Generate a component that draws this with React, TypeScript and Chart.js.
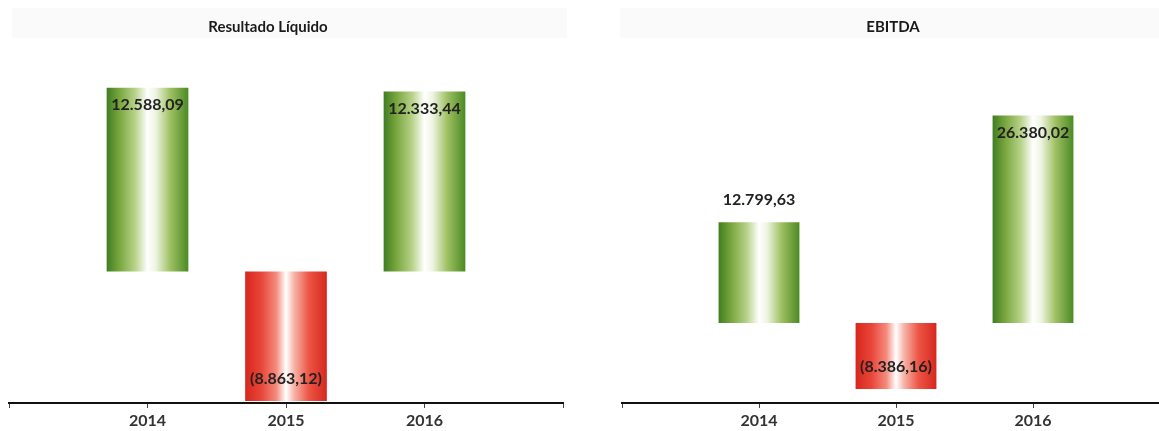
import React, { useEffect, useRef } from "react";
import { Chart, registerables } from "chart.js";

Chart.register(...registerables);

const CATEGORIES = ["2014", "2015", "2016"];
const RESULTADO_VALUES = [12588.09, -8863.12, 12333.44];
const EBITDA_VALUES = [12799.63, -8386.16, 26380.02];
const RESULTADO_TITLE = "Resultado Líquido";
const EBITDA_TITLE = "EBITDA";

const FONT = "Lato, 'Open Sans', 'DejaVu Sans', sans-serif";

function fmt(v: number): string {
  const abs = Math.abs(v);
  const [i, d] = abs.toFixed(2).split(".");
  const ii = i.replace(/\B(?=(\d{3})+(?!\d))/g, ".");
  const s = ii + "," + d;
  return v < 0 ? `(${s})` : s;
}

type Props = {
  title: string;
  values: number[];
  yMin: number;
  yMax: number;
  left: number;
  width: number;
  padLeft: number;
  padRight: number;
  titleX: number;
  bandX: number;
  bandW: number;
  labelModes: ("inside" | "outside")[];
};

const BAR_RATIO = 0.59;

function BarChart(p: Props) {
  const ref = useRef<HTMLCanvasElement | null>(null);
  useEffect(() => {
    if (!ref.current) return;
    const labels = ["", ...CATEGORIES, ""];
    const data = [null, ...p.values, null];

    const makeFill = (ctx: any) => {
      const chart = ctx.chart;
      const v = data[ctx.dataIndex];
      const neg = v != null && (v as number) < 0;
      const xs = chart.scales && chart.scales.x;
      if (!xs || !chart.chartArea) return neg ? "#e03a2c" : "#6fa23a";
      const cx = xs.getPixelForValue(ctx.dataIndex);
      const w = (xs.width / (labels.length - 1)) * BAR_RATIO;
      const g = chart.ctx.createLinearGradient(cx - w / 2, 0, cx + w / 2, 0);
      if (neg) {
        g.addColorStop(0, "#d8261c");
        g.addColorStop(0.2, "#e9463a");
        g.addColorStop(0.38, "#f48a7c");
        g.addColorStop(0.5, "#ffffff");
        g.addColorStop(0.6, "#f7b3a8");
        g.addColorStop(0.78, "#ec5444");
        g.addColorStop(1, "#d6281e");
      } else {
        g.addColorStop(0, "#3f7d22");
        g.addColorStop(0.15, "#77a53c");
        g.addColorStop(0.35, "#b8d28a");
        g.addColorStop(0.5, "#ffffff");
        g.addColorStop(0.6, "#eef4e2");
        g.addColorStop(0.78, "#9ec062");
        g.addColorStop(1, "#4b8a24");
      }
      return g;
    };

    const decor = {
      id: "decor",
      beforeDraw(chart: any) {
        const c = chart.ctx;
        c.save();
        c.fillStyle = "rgba(0,0,0,0.018)";
        c.fillRect(p.bandX, 8, p.bandW, 30);
        c.fillStyle = "#1a1a1a";
        c.font = `bold 15px ${FONT}`;
        c.textAlign = "center";
        c.textBaseline = "middle";
        c.fillText(p.title, p.titleX, 27);
        c.restore();
      },
      afterDatasetsDraw(chart: any) {
        const c = chart.ctx;
        const meta = chart.getDatasetMeta(0);
        c.save();
        c.fillStyle = "#222222";
        c.font = `bold 16px ${FONT}`;
        c.textAlign = "center";
        c.textBaseline = "middle";
        meta.data.forEach((el: any, i: number) => {
          const v = data[i];
          if (v == null) return;
          const mode = p.labelModes[i - 1];
          let y: number;
          if ((v as number) >= 0) {
            y = mode === "outside" ? el.y - 22 : el.y + 17;
          } else {
            y = mode === "outside" ? el.y + 22 : el.y - 22;
          }
          c.fillText(fmt(v as number), el.x, y);
        });
        c.restore();
      },
    };

    const chart = new Chart(ref.current, {
      type: "bar",
      data: {
        labels,
        datasets: [
          {
            data: data as any,
            backgroundColor: makeFill as any,
            borderWidth: 0,
            categoryPercentage: 1,
            barPercentage: BAR_RATIO,
          },
        ],
      },
      options: {
        animation: false,
        responsive: false,
        maintainAspectRatio: false,
        events: [],
        layout: {
          padding: { left: p.padLeft, right: p.padRight, top: 38, bottom: 0 },
        },
        plugins: {
          legend: { display: false },
          tooltip: { enabled: false },
          title: { display: false },
        },
        scales: {
          x: {
            offset: false,
            border: { display: true, color: "#111111", width: 2 },
            grid: {
              offset: false,
              drawOnChartArea: false,
              drawTicks: true,
              tickLength: 5,
              color: "#444444",
              lineWidth: 1,
            },
            ticks: {
              color: "#333333",
              font: { family: FONT, size: 16, weight: "bold" },
              padding: 3,
              maxRotation: 0,
              autoSkip: false,
            },
            afterFit(scale: any) {
              scale.height = 28;
            },
          },
          y: {
            display: false,
            min: p.yMin,
            max: p.yMax,
          },
        },
      },
      plugins: [decor],
    });
    return () => chart.destroy();
  }, []);
  return (
    <canvas
      ref={ref}
      width={p.width}
      height={431}
      style={{ position: "absolute", left: p.left, top: 0, width: p.width, height: 431 }}
    />
  );
}

export default function App() {
  return (
    <div
      style={{
        position: "fixed",
        left: 0,
        top: 0,
        width: 1159,
        height: 431,
        overflow: "hidden",
        background: "#ffffff",
      }}
    >
      <BarChart
        title={RESULTADO_TITLE}
        values={RESULTADO_VALUES}
        yMin={-9000}
        yMax={16000}
        left={0}
        width={580}
        padLeft={9}
        padRight={17}
        titleX={268}
        bandX={12}
        bandW={555}
        labelModes={["inside", "inside", "inside"]}
      />
      <BarChart
        title={EBITDA_TITLE}
        values={EBITDA_VALUES}
        yMin={-10160}
        yMax={36220}
        left={580}
        width={600}
        padLeft={42}
        padRight={10}
        titleX={313}
        bandX={40}
        bandW={560}
        labelModes={["outside", "inside", "inside"]}
      />
    </div>
  );
}
